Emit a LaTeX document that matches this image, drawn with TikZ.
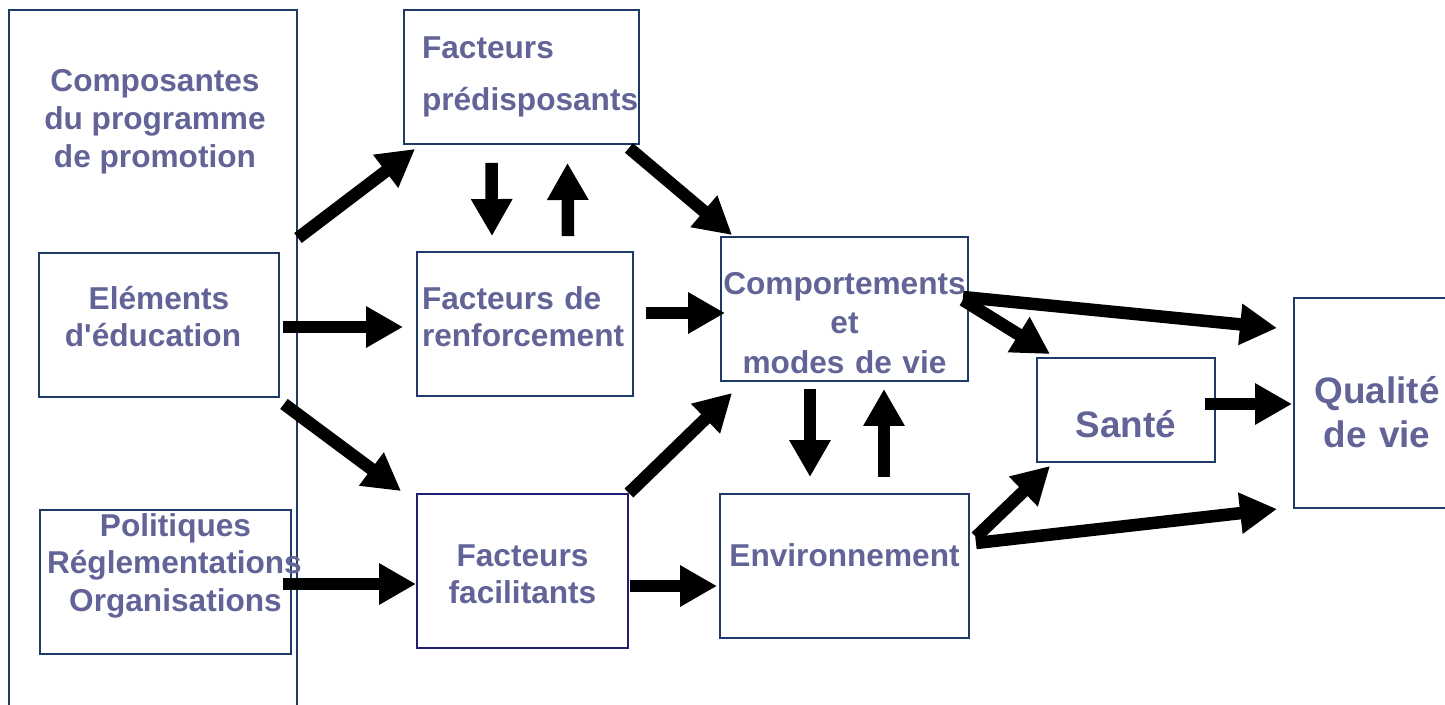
\documentclass[tikz,border=0pt]{standalone}
\usepackage{fontspec}
\setmainfont{Liberation Sans}
\usetikzlibrary{arrows.meta,calc}

\definecolor{boxblue}{RGB}{31,58,102}
\definecolor{facilblue}{RGB}{30,30,120}
\definecolor{txtblue}{RGB}{98,100,152}

\tikzset{
  box/.style={draw=boxblue, line width=1.1pt, inner sep=0pt, text=txtblue,
    font=\bfseries\fontsize{18}{21.5}\selectfont},
  bigbox/.style={box, font=\bfseries\fontsize{21}{25.5}\selectfont},
  title/.style={text=txtblue, align=center, inner sep=0pt,
    font=\bfseries\fontsize{18}{21.5}\selectfont},
  bigarrow/.style={line width=0.25cm, -{Triangle[length=0.74cm, width=0.78cm]}}
}

\begin{document}
\begin{tikzpicture}[x=0.02cm, y=-0.02cm]

  % Frame of the page
  \useasboundingbox (0,0) rectangle (1445,704);
  \clip (0,0) rectangle (1445,704);

  % Program components (left column)
  \node[box, minimum width=5.76cm, minimum height=14cm] (comp) at (153,360) {};
  \node[title] (comptitle) at (155,122) {Composantes\\du programme\\de promotion};
  \node[box, minimum width=4.8cm, minimum height=2.88cm, text width=4.8cm, align=center,
    text height=0.5cm, text depth=1.14cm]
    (educ) at (159,325) {Eléments\hspace*{0.24cm}\\d\textquotesingle éducation\hspace*{0.24cm}};
  \node[box, minimum width=5.02cm, minimum height=2.88cm, text width=5.02cm, align=center,
    text height=0.5cm, text depth=2.34cm]
    (polit) at (165.5,582) {\hspace*{0.4cm}Politiques\\\mbox{\hspace*{0.14cm}Réglementations}\\\hspace*{0.4cm}Organisations};

  % Factors
  \node[box, minimum width=4.7cm, minimum height=2.68cm, inner xsep=0.36cm,
    text width=3.98cm, align=left]
    (pred) at (521.5,77) {Facteurs\\[8pt]prédisposants};
  \node[box, minimum width=4.32cm, minimum height=2.88cm, inner xsep=0.1cm,
    text width=4.12cm, align=left, text height=0.5cm, text depth=1.1cm]
    (renf) at (525,324) {Facteurs de\\renforcement};
  \node[box, draw=facilblue, minimum width=4.22cm, minimum height=3.08cm,
    text width=4.22cm, align=center, text height=0.5cm, text depth=0.7cm]
    (facil) at (522.5,571) {Facteurs\\facilitants};

  % Behaviour and environment
  \node[box, minimum width=4.94cm, minimum height=2.88cm, text width=4.94cm, align=center,
    text height=0.5cm, text depth=1.1cm]
    (compor) at (844.5,309) {Comportements\\[1pt]et\\[1pt]modes de vie};
  \node[box, minimum width=4.98cm, minimum height=2.88cm, text height=0.44cm, text depth=0.44cm]
    (envir) at (844.5,566) {Environnement};

  % Outcomes
  \node[bigbox, minimum width=3.56cm, minimum height=2.08cm, text height=1.08cm, text depth=0cm]
    (sante) at (1126,410) {Santé};
  \node[bigbox, minimum width=3.32cm, minimum height=4.2cm, text width=3.32cm, align=center,
    text height=0.55cm, text depth=0.55cm]
    (qualite) at (1377,403) {Qualité\\de vie};

  % Arrows from the program
  \draw[bigarrow] (comp.east |- 0,238) -- ($(pred.south west)+(12,4)$);
  \draw[bigarrow] ($(educ.east)+(3,2)$) -- ($(renf.west)+(-13,3)$);
  \draw[bigarrow] ($(educ.south east)+(4,6)$) -- ($(facil.north west)+(-15,-2)$);
  \draw[bigarrow] ($(polit.east)+(-9,2)$) -- ($(facil.west)+(0,13)$);

  % Between the factors
  \draw[bigarrow] ($(pred.south)+(-30,18)$) -- ($(renf.north)+(-33,-15)$);
  \draw[bigarrow] ($(renf.north)+(43,-15)$) -- ($(pred.south)+(46,18)$);
  \draw[bigarrow] ($(pred.south east)+(-11,3)$) -- ($(compor.north west)+(12,-1)$);
  \draw[bigarrow] ($(renf.east)+(12,-11)$) -- ($(compor.west)+(5,4)$);
  \draw[bigarrow] (facil.north east) -- ($(compor.south west)+(12,11)$);
  \draw[bigarrow] ($(facil.east)+(1,15)$) -- ($(envir.west)+(-2,20)$);

  % Behaviour <-> environment
  \draw[bigarrow] ($(compor.south)+(-34.5,7)$) -- ($(envir.north)+(-34.5,-16)$);
  \draw[bigarrow] ($(envir.north)+(39.5,-16)$) -- ($(compor.south)+(39.5,7)$);

  % Towards health and quality of life
  \draw[bigarrow] ($(compor.east)+(-6,-12)$) -- ($(qualite.west)+(-16,-75)$);
  \draw[bigarrow] ($(compor.east)+(-6,-9)$) -- ($(sante.north west)+(14,-3)$);
  \draw[bigarrow] ($(sante.east)+(-11,-6)$) -- ($(qualite.west)+(-1,1)$);
  \draw[bigarrow] ($(envir.east)+(6,-29)$) -- ($(sante.south west)+(14,3)$);
  \draw[bigarrow] ($(envir.east)+(6,-23)$) -- ($(qualite.west)+(-16,106)$);

\end{tikzpicture}
\end{document}
